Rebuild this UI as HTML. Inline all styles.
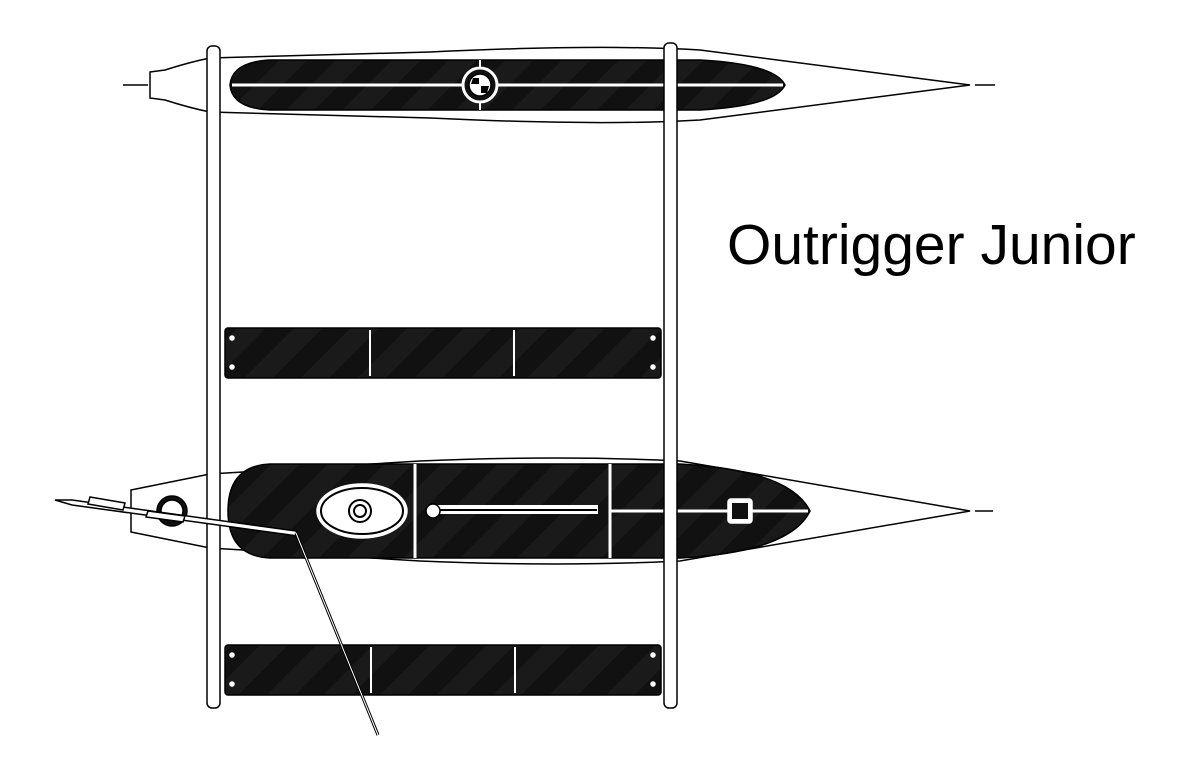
<!DOCTYPE html>
<html><head><style>body{margin:0;background:#fff}svg{display:block}</style></head><body>
<svg width="1200" height="777" viewBox="0 0 1200 777" xmlns="http://www.w3.org/2000/svg">
<defs>
<pattern id="cf" width="40" height="40" patternUnits="userSpaceOnUse" patternTransform="rotate(45)">
<rect width="40" height="40" fill="#111"/><rect width="20" height="40" fill="#1a1a1a"/>
</pattern>
</defs>
<g stroke="#000" stroke-width="1.5" fill="none">
<!-- top hull -->
<line x1="123" y1="85" x2="148" y2="85"/>
<line x1="975" y1="85" x2="995" y2="85"/>
<path d="M150,72 L165,70 Q190,62 210,58 L430,52 Q600,44 700,50 L970,85 L700,120 Q600,126 430,118 L210,112 Q190,108 165,100 L150,98 Z" fill="#fff"/>
<path d="M270,60 L700,60 Q775,64 785,85 Q775,106 700,110 L270,110 Q232,108 230,85 Q232,62 270,60 Z" fill="url(#cf)"/>
<line x1="232" y1="85" x2="783" y2="85" stroke="#fff" stroke-width="3"/>
<line x1="480" y1="60" x2="480" y2="110" stroke="#fff" stroke-width="2"/>
<circle cx="480" cy="85" r="17" fill="#111" stroke="#fff" stroke-width="3"/>
<circle cx="480" cy="85" r="11" fill="#fff" stroke="#000"/>
<path d="M473,78 h6 v6 h-8 z M481,86 h8 l-2,7 h-6 z" fill="#000" stroke="none"/>
<!-- trampolines -->
<rect x="225" y="328" width="436" height="50" rx="3" fill="url(#cf)"/>
<line x1="370" y1="330" x2="370" y2="376" stroke="#fff" stroke-width="2"/>
<line x1="514" y1="330" x2="514" y2="376" stroke="#fff" stroke-width="2"/>
<rect x="225" y="645" width="436" height="50" rx="3" fill="url(#cf)"/>
<line x1="371" y1="647" x2="371" y2="693" stroke="#fff" stroke-width="2"/>
<line x1="515" y1="647" x2="515" y2="693" stroke="#fff" stroke-width="2"/>
<g fill="#fff" stroke="#fff"><circle cx="232" cy="338" r="2"/><circle cx="232" cy="367" r="2"/><circle cx="653" cy="338" r="2"/><circle cx="653" cy="367" r="2"/><circle cx="232" cy="655" r="2"/><circle cx="232" cy="684" r="2"/><circle cx="653" cy="655" r="2"/><circle cx="653" cy="684" r="2"/></g>
<!-- main hull -->
<line x1="975" y1="511" x2="993" y2="511"/>
<path d="M131,490 L210,474 L420,461 Q560,455 680,461 L970,511 L680,561 Q560,567 420,561 L210,548 L131,532 Z" fill="#fff"/>
<path d="M270,464 L680,464 Q790,470 810,511 Q790,552 680,558 L270,558 Q228,556 228,511 Q228,466 270,464 Z" fill="url(#cf)"/>
<line x1="415" y1="464" x2="415" y2="558" stroke="#fff" stroke-width="3"/>
<line x1="610" y1="464" x2="610" y2="558" stroke="#fff" stroke-width="3"/>
<line x1="610" y1="511" x2="808" y2="511" stroke="#fff" stroke-width="3"/>
<ellipse cx="362" cy="511" rx="45" ry="27" fill="#fff" stroke="#fff"/>
<ellipse cx="362" cy="511" rx="41" ry="23" fill="#fff" stroke="#000" stroke-width="2"/>
<circle cx="360" cy="511" r="11" fill="#fff" stroke="#000" stroke-width="2"/>
<circle cx="360" cy="511" r="6" fill="#fff" stroke="#000" stroke-width="2"/>
<rect x="430" y="505" width="168" height="9" fill="#fff" stroke="none"/>
<line x1="430" y1="510" x2="597" y2="510" stroke="#000" stroke-width="2"/>
<circle cx="433" cy="511" r="7" fill="#fff" stroke="#000"/>
<rect x="728" y="499" width="24" height="24" rx="3" fill="#fff" stroke="#fff"/>
<rect x="732" y="503" width="16" height="16" fill="#111" stroke="none"/>
<circle cx="172" cy="511" r="15" fill="#111" stroke="#000"/>
<circle cx="172" cy="511" r="11" fill="#fff" stroke="#000"/>
<!-- akas -->
<rect x="207" y="46" width="13" height="662" rx="5" fill="#fff"/>
<rect x="664" y="43" width="13" height="665" rx="5" fill="#fff"/>
<!-- paddle -->
<path d="M55,500 L72,500 L296,531 L298,536 L72,505 Z" fill="#fff"/>
<path d="M90,497 L125,503 L123,510 L88,504 Z M148,511 L185,516 L183,522 L146,517 Z" fill="#fff"/>
<line x1="296" y1="533" x2="378" y2="735" stroke-width="3"/>
<line x1="296" y1="533" x2="378" y2="735" stroke="#fff" stroke-width="1"/>
</g>
<text x="727" y="264" font-family="Liberation Sans, sans-serif" font-size="57" fill="#000">Outrigger Junior</text>
</svg>
</body></html>
